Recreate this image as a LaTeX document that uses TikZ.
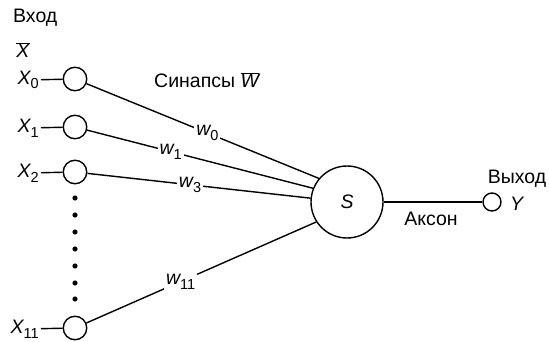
\documentclass[tikz,border=0pt]{standalone}
\usepackage{fontspec}
\setmainfont{Liberation Sans}
\newcommand\sbs[1]{\raisebox{-0.45ex}{\upshape\fontsize{14.5}{14.5}\selectfont #1}}
\begin{document}
\begin{tikzpicture}[x=1pt,y=-1pt, line width=1.4pt,
  font=\fontsize{19.5}{19.5}\selectfont,
  inp/.style={circle,draw,minimum size=23.5pt,inner sep=0pt},
  lbl/.style={inner sep=1.5pt},
  wl/.style={fill=white,inner sep=2pt}]
\useasboundingbox (0,0) rectangle (549,342);
% inputs
\node[lbl,anchor=west] (vhod) at (11,18) {Вход};
\node[lbl] (xbar) at (23,50) {$\overline{\hbox{\itshape X}}$};
\node[lbl,anchor=east] (lx0) at (41,80) {\itshape X\sbs{0}};
\node[lbl,anchor=east] (lx1) at (41,128) {\itshape X\sbs{1}};
\node[lbl,anchor=east] (lx2) at (41,173) {\itshape X\sbs{2}};
\node[lbl,anchor=east] (lx11) at (41,329) {\itshape X\sbs{11}};
\node[inp] (x0) at (75,79) {};
\node[inp] (x1) at (75,127) {};
\node[inp] (x2) at (75,172) {};
\node[inp] (x11) at (75,328) {};
\draw (lx0) -- (x0);
\draw (lx1) -- (x1);
\draw (lx2) -- (x2);
\draw (lx11) -- (x11);
\foreach \yy in {198,215,232,249,266,283,299} \fill (75pt,-\yy pt) circle (2.6pt);
% neuron
\node[circle,draw,minimum size=72pt,inner sep=0pt] (S) at (347,202) {\itshape S};
\node[lbl,anchor=west] (syn) at (152,80) {Синапсы $\overline{\hbox{\itshape W}}$};
\draw (x0) -- node[wl,pos=0.52] (w0) {\itshape w\sbs{0}} (S.140);
\draw (x1) -- node[wl,pos=0.37] (w1) {\itshape w\sbs{1}} (S.158);
\draw (x2) -- node[wl,pos=0.46] (w3) {\itshape w\sbs{3}} (S.174);
\draw (x11) -- node[wl,pos=0.41] (w11) {\itshape w\sbs{11}} (S.213);
% output
\node[circle,draw,minimum size=18pt,inner sep=0pt] (out) at (492,202) {};
\draw (S) -- (out);
\node[lbl] (akson) at (431,219) {Аксон};
\node[lbl] (vyhod) at (517,179) {Выход};
\node[lbl,anchor=west] (ylab) at (508,204) {\itshape Y};
\end{tikzpicture}
\end{document}
